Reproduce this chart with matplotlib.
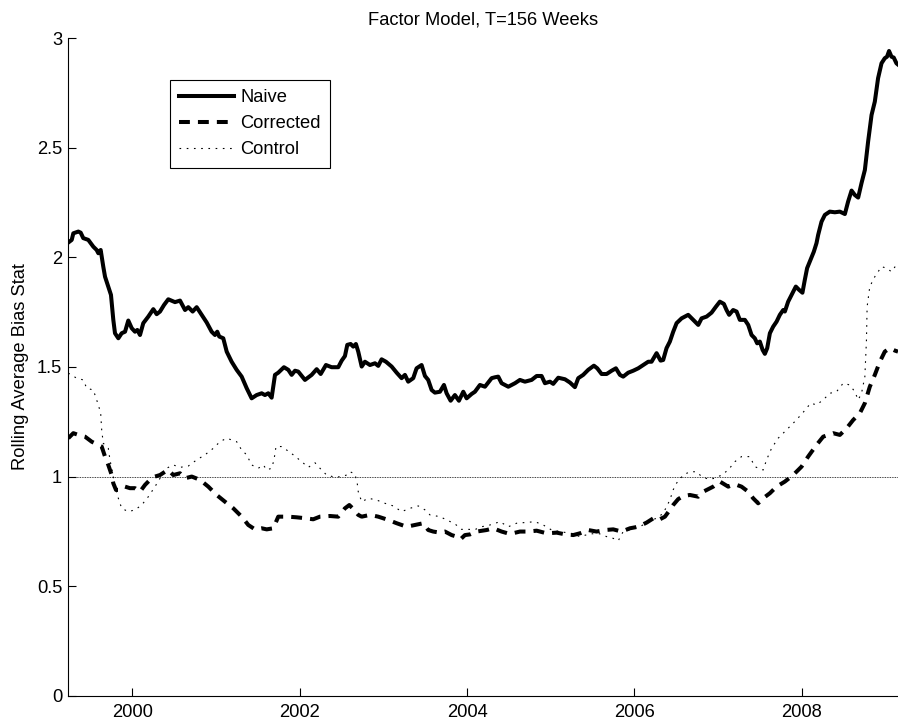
import numpy as np
import matplotlib
matplotlib.use('Agg')
import matplotlib.pyplot as plt

plt.rcParams['font.family'] = ['Liberation Sans', 'DejaVu Sans']
plt.rcParams['font.size'] = 13.2

# values (year, rolling average bias stat)
naive_x = [1999.235, 1999.276, 1999.295, 1999.355, 1999.383, 1999.414, 1999.474, 1999.534, 1999.574, 1999.594,
           1999.622, 1999.653, 1999.674, 1999.713, 1999.745, 1999.773, 1999.793, 1999.833, 1999.873, 1999.913,
           1999.952, 1999.993, 2000.032, 2000.060, 2000.092, 2000.131, 2000.191, 2000.251, 2000.291, 2000.331,
           2000.379, 2000.430, 2000.510, 2000.570, 2000.630, 2000.669, 2000.721, 2000.769, 2000.829, 2000.889,
           2000.948, 2000.988, 2001.015, 2001.039, 2001.087, 2001.128, 2001.187, 2001.247, 2001.307, 2001.367,
           2001.426, 2001.486, 2001.546, 2001.585, 2001.625, 2001.665, 2001.705, 2001.744, 2001.812, 2001.864,
           2001.904, 2001.944, 2001.983, 2002.063, 2002.143, 2002.203, 2002.251, 2002.314, 2002.382, 2002.461,
           2002.502, 2002.541, 2002.569, 2002.609, 2002.640, 2002.672, 2002.700, 2002.741, 2002.780, 2002.840,
           2002.900, 2002.939, 2002.979, 2003.031, 2003.099, 2003.159, 2003.218, 2003.258, 2003.297, 2003.357,
           2003.397, 2003.457, 2003.497, 2003.536, 2003.577, 2003.616, 2003.676, 2003.724, 2003.756, 2003.804,
           2003.855, 2003.903, 2003.955, 2003.995, 2004.055, 2004.094, 2004.154, 2004.214, 2004.294, 2004.333,
           2004.373, 2004.413, 2004.493, 2004.573, 2004.632, 2004.692, 2004.772, 2004.832, 2004.891, 2004.931,
           2004.991, 2005.030, 2005.090, 2005.170, 2005.230, 2005.289, 2005.329, 2005.388, 2005.448, 2005.516,
           2005.556, 2005.608, 2005.668, 2005.728, 2005.779, 2005.827, 2005.866, 2005.926, 2005.986, 2006.046,
           2006.105, 2006.165, 2006.205, 2006.265, 2006.313, 2006.344, 2006.384, 2006.424, 2006.463, 2006.504,
           2006.564, 2006.643, 2006.703, 2006.763, 2006.803, 2006.863, 2006.922, 2006.974, 2007.021, 2007.069,
           2007.101, 2007.132, 2007.180, 2007.221, 2007.260, 2007.320, 2007.360, 2007.400, 2007.439, 2007.467,
           2007.499, 2007.532, 2007.559, 2007.587, 2007.619, 2007.658, 2007.699, 2007.738, 2007.778, 2007.798,
           2007.837, 2007.878, 2007.929, 2007.968, 2008.008, 2008.036, 2008.064, 2008.105, 2008.144, 2008.176,
           2008.196, 2008.236, 2008.276, 2008.335, 2008.395, 2008.455, 2008.515, 2008.554, 2008.595, 2008.634,
           2008.674, 2008.714, 2008.754, 2008.793, 2008.834, 2008.873, 2008.912, 2008.953, 2008.992, 2009.019,
           2009.043, 2009.072, 2009.099, 2009.131, 2009.150]
naive_y = [2.068, 2.080, 2.110, 2.118, 2.113, 2.088, 2.080, 2.049, 2.034, 2.019,
           2.034, 1.958, 1.912, 1.867, 1.829, 1.715, 1.654, 1.631, 1.654, 1.661,
           1.712, 1.677, 1.661, 1.669, 1.646, 1.700, 1.730, 1.764, 1.741, 1.753,
           1.783, 1.809, 1.796, 1.803, 1.760, 1.773, 1.753, 1.773, 1.738, 1.703,
           1.661, 1.646, 1.661, 1.639, 1.631, 1.570, 1.524, 1.487, 1.456, 1.403,
           1.357, 1.372, 1.380, 1.372, 1.380, 1.360, 1.464, 1.474, 1.499, 1.487,
           1.464, 1.483, 1.479, 1.441, 1.464, 1.490, 1.468, 1.509, 1.499, 1.499,
           1.529, 1.550, 1.601, 1.605, 1.593, 1.605, 1.570, 1.502, 1.524, 1.509,
           1.517, 1.505, 1.535, 1.524, 1.502, 1.474, 1.449, 1.464, 1.433, 1.449,
           1.494, 1.509, 1.459, 1.441, 1.395, 1.383, 1.387, 1.418, 1.380, 1.346,
           1.372, 1.346, 1.387, 1.357, 1.377, 1.387, 1.418, 1.410, 1.449, 1.453,
           1.456, 1.426, 1.410, 1.426, 1.441, 1.433, 1.441, 1.459, 1.459, 1.426,
           1.433, 1.423, 1.451, 1.444, 1.429, 1.408, 1.449, 1.464, 1.487, 1.506,
           1.494, 1.468, 1.468, 1.483, 1.494, 1.464, 1.456, 1.474, 1.483, 1.494,
           1.509, 1.524, 1.524, 1.563, 1.529, 1.532, 1.586, 1.616, 1.660, 1.700,
           1.722, 1.738, 1.715, 1.692, 1.722, 1.730, 1.748, 1.775, 1.798, 1.788,
           1.760, 1.738, 1.760, 1.753, 1.715, 1.715, 1.692, 1.646, 1.631, 1.608,
           1.616, 1.578, 1.560, 1.586, 1.654, 1.684, 1.707, 1.738, 1.760, 1.753,
           1.798, 1.829, 1.867, 1.852, 1.839, 1.897, 1.951, 1.989, 2.026, 2.065,
           2.103, 2.163, 2.194, 2.209, 2.206, 2.209, 2.198, 2.255, 2.305, 2.285,
           2.273, 2.339, 2.399, 2.529, 2.650, 2.711, 2.818, 2.886, 2.909, 2.916,
           2.942, 2.916, 2.912, 2.886, 2.880]

corr_x = [1999.235, 1999.295, 1999.355, 1999.435, 1999.515, 1999.634, 1999.674, 1999.713, 1999.754, 1999.773,
          1999.805, 1999.853, 1999.913, 1999.972, 2000.032, 2000.092, 2000.152, 2000.211, 2000.271, 2000.331,
          2000.391, 2000.430, 2000.490, 2000.570, 2000.630, 2000.710, 2000.809, 2000.908, 2001.008, 2001.108,
          2001.207, 2001.307, 2001.386, 2001.466, 2001.546, 2001.606, 2001.685, 2001.744, 2001.864, 2001.964,
          2002.063, 2002.162, 2002.242, 2002.362, 2002.461, 2002.541, 2002.593, 2002.633, 2002.700, 2002.741,
          2002.840, 2002.939, 2003.059, 2003.159, 2003.278, 2003.377, 2003.477, 2003.536, 2003.596, 2003.676,
          2003.736, 2003.816, 2003.875, 2003.923, 2003.975, 2004.035, 2004.114, 2004.234, 2004.313, 2004.413,
          2004.513, 2004.632, 2004.732, 2004.832, 2004.951, 2005.071, 2005.150, 2005.269, 2005.349, 2005.448,
          2005.548, 2005.648, 2005.747, 2005.847, 2005.947, 2006.046, 2006.146, 2006.245, 2006.305, 2006.365,
          2006.424, 2006.463, 2006.523, 2006.583, 2006.663, 2006.763, 2006.823, 2006.942, 2007.022, 2007.121,
          2007.201, 2007.280, 2007.360, 2007.419, 2007.479, 2007.539, 2007.619, 2007.699, 2007.798, 2007.897,
          2007.997, 2008.076, 2008.176, 2008.256, 2008.375, 2008.455, 2008.535, 2008.614, 2008.694, 2008.754,
          2008.813, 2008.873, 2008.933, 2008.992, 2009.052, 2009.112, 2009.150]
corr_y = [1.175, 1.198, 1.190, 1.182, 1.159, 1.137, 1.091, 1.053, 1.007, 0.969,
          0.939, 0.939, 0.954, 0.947, 0.947, 0.931, 0.962, 0.985, 1.000, 1.007,
          1.022, 1.030, 1.007, 1.015, 0.992, 1.000, 0.985, 0.954, 0.916, 0.885,
          0.855, 0.817, 0.779, 0.759, 0.764, 0.759, 0.764, 0.817, 0.817, 0.814,
          0.810, 0.805, 0.817, 0.820, 0.817, 0.855, 0.870, 0.855, 0.825, 0.817,
          0.825, 0.817, 0.802, 0.787, 0.771, 0.779, 0.787, 0.756, 0.749, 0.744,
          0.749, 0.733, 0.726, 0.714, 0.733, 0.736, 0.749, 0.756, 0.764, 0.749,
          0.738, 0.749, 0.749, 0.753, 0.741, 0.744, 0.738, 0.733, 0.741, 0.756,
          0.749, 0.756, 0.759, 0.749, 0.764, 0.771, 0.790, 0.814, 0.805, 0.817,
          0.848, 0.870, 0.897, 0.911, 0.916, 0.908, 0.931, 0.954, 0.977, 0.954,
          0.965, 0.954, 0.931, 0.901, 0.878, 0.901, 0.924, 0.954, 0.977, 1.007,
          1.045, 1.091, 1.144, 1.182, 1.198, 1.190, 1.220, 1.258, 1.289, 1.335,
          1.410, 1.464, 1.524, 1.570, 1.586, 1.575, 1.570]

ctrl_x = [1999.235, 1999.335, 1999.414, 1999.455, 1999.534, 1999.594, 1999.622, 1999.634, 1999.653, 1999.713,
          1999.733, 1999.765, 1999.793, 1999.833, 1999.873, 1999.952, 2000.032, 2000.112, 2000.191, 2000.271,
          2000.331, 2000.410, 2000.490, 2000.570, 2000.669, 2000.769, 2000.868, 2000.968, 2001.047, 2001.128,
          2001.187, 2001.247, 2001.307, 2001.367, 2001.426, 2001.506, 2001.566, 2001.606, 2001.665, 2001.693,
          2001.717, 2001.785, 2001.845, 2001.924, 2002.024, 2002.103, 2002.183, 2002.242, 2002.322, 2002.421,
          2002.502, 2002.561, 2002.601, 2002.660, 2002.688, 2002.700, 2002.741, 2002.820, 2002.919, 2003.019,
          2003.118, 2003.218, 2003.317, 2003.417, 2003.497, 2003.557, 2003.676, 2003.756, 2003.855, 2003.935,
          2004.014, 2004.094, 2004.174, 2004.273, 2004.393, 2004.493, 2004.592, 2004.692, 2004.812, 2004.911,
          2005.011, 2005.110, 2005.230, 2005.349, 2005.468, 2005.568, 2005.668, 2005.747, 2005.807, 2005.866,
          2005.966, 2006.066, 2006.165, 2006.265, 2006.344, 2006.424, 2006.463, 2006.504, 2006.583, 2006.663,
          2006.743, 2006.803, 2006.883, 2006.962, 2007.042, 2007.121, 2007.201, 2007.280, 2007.380, 2007.439,
          2007.539, 2007.579, 2007.639, 2007.718, 2007.818, 2007.917, 2008.008, 2008.107, 2008.176, 2008.256,
          2008.335, 2008.415, 2008.495, 2008.574, 2008.634, 2008.674, 2008.714, 2008.754, 2008.773, 2008.781,
          2008.813, 2008.873, 2008.953, 2009.012, 2009.072, 2009.131, 2009.150]
ctrl_y = [1.472, 1.449, 1.441, 1.403, 1.395, 1.327, 1.289, 1.213, 1.152, 1.129,
          1.076, 1.015, 0.954, 0.901, 0.855, 0.840, 0.848, 0.870, 0.908, 0.954,
          0.992, 1.038, 1.053, 1.042, 1.048, 1.076, 1.099, 1.129, 1.159, 1.175,
          1.167, 1.159, 1.121, 1.099, 1.053, 1.038, 1.053, 1.030, 1.038, 1.076,
          1.137, 1.137, 1.121, 1.099, 1.068, 1.042, 1.063, 1.038, 1.007, 0.997,
          1.000, 1.007, 1.022, 1.012, 0.969, 0.931, 0.885, 0.901, 0.893, 0.878,
          0.866, 0.840, 0.855, 0.866, 0.848, 0.825, 0.817, 0.802, 0.784, 0.759,
          0.759, 0.758, 0.771, 0.779, 0.794, 0.771, 0.787, 0.790, 0.794, 0.779,
          0.756, 0.749, 0.741, 0.726, 0.738, 0.741, 0.726, 0.718, 0.707, 0.749,
          0.759, 0.771, 0.794, 0.810, 0.832, 0.893, 0.939, 0.970, 1.007, 1.022,
          1.022, 1.000, 0.988, 0.992, 1.007, 1.030, 1.068, 1.091, 1.091, 1.045,
          1.030, 1.076, 1.129, 1.175, 1.213, 1.251, 1.289, 1.335, 1.327, 1.350,
          1.380, 1.387, 1.426, 1.418, 1.387, 1.350, 1.380, 1.456, 1.623, 1.775,
          1.867, 1.912, 1.958, 1.951, 1.935, 1.966, 1.960]

x_ticks = [2000, 2002, 2004, 2006, 2008]
y_ticks = [0, 0.5, 1, 1.5, 2, 2.5, 3]

fig = plt.figure(figsize=(8.98, 7.21), dpi=100)
ax = fig.add_axes([0.0754, 0.0351, 0.9246, 0.9118])

ax.axhline(1, color='k', lw=0.6, ls=(0, (1, 1)))
ax.plot(naive_x, naive_y, color='k', lw=2.9, ls='-', label='Naive', solid_joinstyle='round')
ax.plot(corr_x, corr_y, color='k', lw=2.9, ls=(0, (2.7, 2.0)), label='Corrected')
ax.plot(ctrl_x, ctrl_y, color='k', lw=0.8, ls=(0, (1.5, 5)), label='Control')

ax.set_xlim(1999.228, 2009.15)
ax.set_ylim(0, 3)
ax.set_xticks(x_ticks)
ax.set_xticklabels([str(t) for t in x_ticks])
ax.set_yticks(y_ticks)
ax.set_yticklabels(['0', '0.5', '1', '1.5', '2', '2.5', '3'])
ax.tick_params(direction='in', length=6, width=0.8, pad=6)
ax.tick_params(axis='y', pad=4)
for s in ['top', 'right']:
    ax.spines[s].set_visible(False)
for s in ['left', 'bottom']:
    ax.spines[s].set_linewidth(0.8)

ax.set_title('Factor Model, T=156 Weeks', pad=10, fontsize=13.2)
ax.set_ylabel('Rolling Average Bias Stat', labelpad=5.5)

leg = ax.legend(loc='upper left', bbox_to_anchor=(0.1228, 0.9366), borderaxespad=0,
                handlelength=3.0, handletextpad=0.35, borderpad=0.5, labelspacing=0.5,
                fancybox=False, framealpha=1)
leg.get_frame().set_edgecolor('k')
leg.get_frame().set_linewidth(0.8)

plt.savefig('out.png', dpi=100)
